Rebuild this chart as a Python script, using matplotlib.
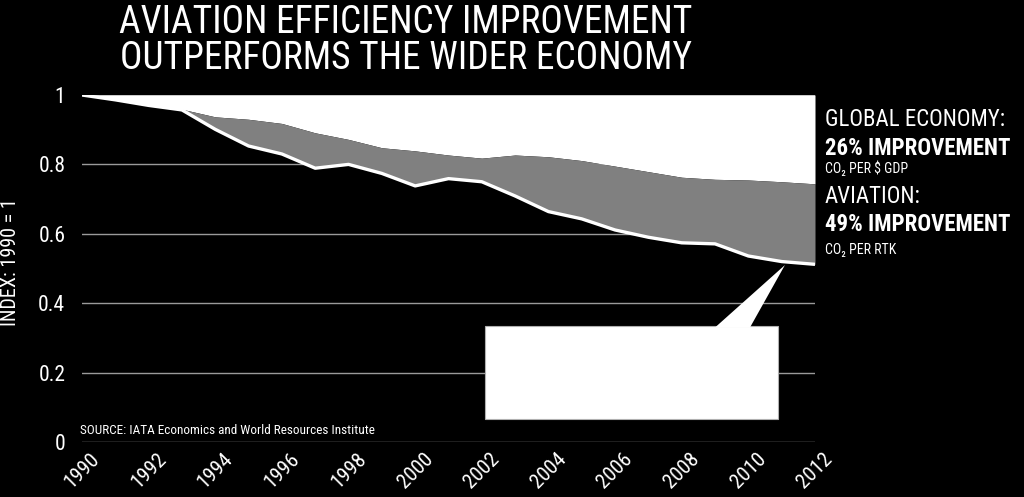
import matplotlib
matplotlib.use("Agg")
import matplotlib.pyplot as plt
from matplotlib import font_manager
from matplotlib.patches import Polygon, Rectangle

years = list(range(1990, 2013))
aviation = [1.0, 0.986, 0.970, 0.957, 0.901, 0.853, 0.830, 0.789, 0.800, 0.774,
            0.738, 0.759, 0.750, 0.709, 0.664, 0.643, 0.611, 0.590, 0.574, 0.571,
            0.536, 0.520, 0.512]
economy = [1.0, 0.988, 0.971, 0.959, 0.937, 0.930, 0.918, 0.891, 0.872, 0.848,
           0.839, 0.827, 0.818, 0.827, 0.822, 0.811, 0.795, 0.779, 0.763, 0.757,
           0.755, 0.750, 0.744]
xticks = list(range(1990, 2013, 2))
yticks = [0, 0.2, 0.4, 0.6, 0.8, 1]
ytick_labels = ["0", "0.2", "0.4", "0.6", "0.8", "1"]

title = "AVIATION EFFICIENCY IMPROVEMENT\nOUTPERFORMS THE WIDER ECONOMY"
ylabel = "INDEX: 1990 = 1"
source = "SOURCE: IATA Economics and World Resources Institute"

installed = {f.name for f in font_manager.fontManager.ttflist}
cond = None
for cand in ["Liberation Sans Narrow", "Roboto Condensed", "Roboto", "DejaVu Sans"]:
    if cand in installed:
        cond = cand
        break
plt.rcParams['font.family'] = [cond, 'DejaVu Sans']

fig = plt.figure(figsize=(10.24, 4.97), dpi=100, facecolor='black')
ax = fig.add_axes([82/1024, 55/497, 733/1024, 347/497])
ax.set_facecolor('black')
ax.set_xlim(1990, 2012)
ax.set_ylim(0, 1)

for yv in yticks:
    ax.axhline(yv, color='#9a9a9a', lw=1.0, zorder=1)

ax.fill_between(years, economy, 1, color='white', lw=0, zorder=2)
ax.fill_between(years, aviation, economy, color='#808080', lw=0, zorder=2)
ax.plot(years, aviation, color='white', lw=2.4, zorder=3, solid_capstyle='butt')

# callout box
ax.add_patch(Rectangle((0.55, 0.066), 0.3995, 0.268, transform=ax.transAxes,
                       facecolor='white', edgecolor='#b0b0b0', lw=0.8, zorder=4, clip_on=False))
ax.add_patch(Polygon([(0.8636, 0.33), (0.9113, 0.33), (0.959, 0.51)], closed=True,
                     transform=ax.transAxes, facecolor='white', edgecolor='none', zorder=5, clip_on=False))

for s in ax.spines.values():
    s.set_visible(False)
ax.set_xticks(xticks)
ax.set_xticklabels([str(x) for x in xticks])
ax.set_yticks(yticks)
ax.set_yticklabels(ytick_labels)
ax.tick_params(axis='both', length=0, colors='white')
ax.tick_params(axis='y', labelsize=15.5, pad=12)
ax.tick_params(axis='x', labelsize=15, pad=5)
for lab in ax.get_xticklabels():
    lab.set_rotation(45)
    lab.set_ha('center')

fig.text(406/1024, 1 - 4/497, title, ha='center', va='top', color='white',
         fontsize=27, linespacing=0.98)
fig.text(11/1024, 1 - 262/497, ylabel, rotation=90, ha='center', va='center',
         color='white', fontsize=14.5)
fig.text(80/1024, 1 - 431/497, source, ha='left', va='center', color='white', fontsize=9.5)

tx = 825/1024
fig.text(tx, 1 - 126/497, "GLOBAL ECONOMY:", color='white', fontsize=16.5, va='baseline')
fig.text(tx, 1 - 155/497, "26% IMPROVEMENT", color='white', fontsize=16.5, va='baseline', fontweight='bold')
fig.text(tx, 1 - 173/497, "CO\u2082 PER $ GDP", color='white', fontsize=10, va='baseline')
fig.text(tx, 1 - 203/497, "AVIATION:", color='white', fontsize=16.5, va='baseline')
fig.text(tx, 1 - 231/497, "49% IMPROVEMENT", color='white', fontsize=16.5, va='baseline', fontweight='bold')
fig.text(tx, 1 - 254/497, "CO\u2082 PER RTK", color='white', fontsize=10, va='baseline')

fig.savefig('out.png', dpi=100, facecolor='black')
